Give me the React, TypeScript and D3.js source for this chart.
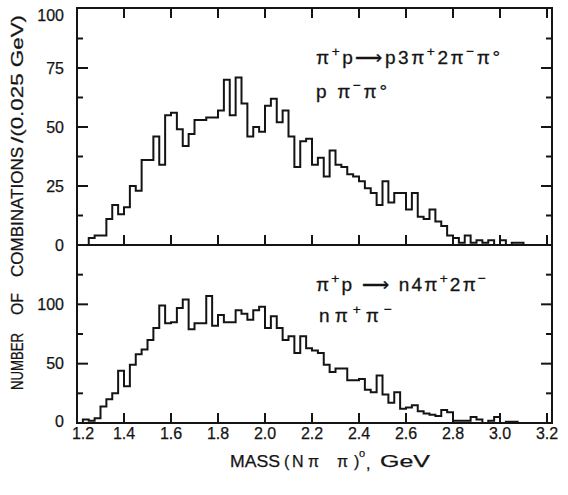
import React from "react";
import * as d3 from "d3";

// Histogram binning: 0.025 GeV bins starting at 1.2 GeV
const binStart = 1.2;
const binWidth = 0.025;

// pi+ p -> p 3pi+ 2pi- pi0, p pi- pi0 combinations
const upperCounts = [
  0, 0, 3, 4, 4, 11, 17, 13, 16, 25,
  23, 36, 36, 46, 34, 55, 56, 49, 42, 47,
  53, 53, 54, 54, 57, 70, 55, 71, 60, 46,
  50, 48, 59, 62, 52, 57, 46, 33, 44, 45,
  34, 37, 29, 40, 34, 33, 30, 29, 27, 24,
  22, 17, 27, 18, 22, 22, 15, 22, 12, 11,
  15, 10, 8, 4, 3, 1, 4, 1, 2, 1,
  2, 0, 2, 0, 1, 1, 0, 0, 0, 0,
];

// pi+ p -> n 4pi+ 2pi-, n pi+ pi- combinations
const lowerCounts = [
  0, 3, 2, 4, 14, 20, 25, 44, 31, 49,
  58, 62, 70, 80, 99, 84, 85, 97, 104, 79,
  84, 84, 107, 82, 91, 85, 85, 95, 92, 87,
  95, 98, 80, 90, 80, 70, 73, 59, 73, 63,
  61, 59, 49, 43, 46, 46, 36, 36, 37, 28,
  26, 40, 24, 17, 26, 12, 13, 15, 10, 8,
  7, 6, 11, 9, 2, 2, 2, 5, 3, 0,
  2, 5, 0, 1, 1, 0, 0, 0, 0, 0,
];

const massTicks = [1.2, 1.4, 1.6, 1.8, 2.0, 2.2, 2.4, 2.6, 2.8, 3.0, 3.2];
const upperCountLabels = [0, 25, 50, 75, 100];
const lowerCountLabels = [0, 50, 100];
const upperMinorStep = 12.5;
const lowerMinorStep = 25;

type Seg = { t: string; sup?: boolean };
const upperReaction: Seg[] = [
  { t: "π" }, { t: "+", sup: true }, { t: "p⟶p3π" }, { t: "+", sup: true },
  { t: "2π" }, { t: "−", sup: true }, { t: "π°" },
];
const upperCombination: Seg[] = [
  { t: "p π" }, { t: "−", sup: true }, { t: "π°" },
];
const lowerReaction: Seg[] = [
  { t: "π" }, { t: "+", sup: true }, { t: "p ⟶ n4π" }, { t: "+", sup: true },
  { t: "2π" }, { t: "−", sup: true },
];
const lowerCombination: Seg[] = [
  { t: "nπ" }, { t: "+", sup: true }, { t: "π" }, { t: "−", sup: true },
];

const W = 568;
const H = 495;
const left = 77;
const right = 552;
const top = 8;
const mid = 245;
const bottom = 423;
const ink = "#141414";
const font = "'Liberation Sans', Arial, sans-serif";

const x = d3.scaleLinear().domain([1.2, 3.2]).range([left, 547]);
const yUpper = d3.scaleLinear().domain([0, 100]).range([mid, 9]);
const yLower = d3.scaleLinear().domain([0, 150]).range([bottom, mid]);

function stepPath(counts: number[], y: d3.ScaleLinear<number, number>) {
  const pts: [number, number][] = [[binStart, 0]];
  counts.forEach((c, i) => {
    const m0 = binStart + i * binWidth;
    pts.push([m0, c], [m0 + binWidth, c]);
  });
  pts.push([binStart + counts.length * binWidth, 0]);
  return d3
    .line<[number, number]>()
    .x((d) => x(Math.min(d[0], 3.2)))
    .y((d) => y(d[1]))(pts) as string;
}

function Formula({ px, py, segs, size, width }: { px: number; py: number; segs: Seg[]; size: number; width: number }) {
  let raised = false;
  const shift = size * 0.42;
  return (
    <text
      x={px}
      y={py}
      fontSize={size}
      fill={ink}
      fontFamily={font}
      textLength={width}
      lengthAdjust="spacing"
      stroke={ink}
      strokeWidth={0.3}
    >
      {segs.map((s, i) => {
        let dy = 0;
        if (s.sup && !raised) dy = -shift;
        if (!s.sup && raised) dy = shift;
        raised = !!s.sup;
        return (
          <tspan key={i} dy={dy} fontSize={s.sup ? size * 0.72 : size}>
            {s.t}
          </tspan>
        );
      })}
    </text>
  );
}

function countTicks(max: number, step: number, majorEvery: number, y: d3.ScaleLinear<number, number>) {
  const out: JSX.Element[] = [];
  for (let v = step; v < max - 1e-6; v += step) {
    const len = Math.abs(v % majorEvery) < 1e-6 ? 11 : 6;
    const yy = y(v);
    out.push(<line key={`l${v}`} x1={left} x2={left + len} y1={yy} y2={yy} />);
    out.push(<line key={`r${v}`} x1={right} x2={right - len} y1={yy} y2={yy} />);
  }
  return out;
}

export default function App() {
  const xt = massTicks.filter((m) => m > 1.2);
  return (
    <svg
      width={W}
      height={H}
      style={{ position: "absolute", left: 0, top: 0, background: "#fff" }}
      fontFamily={font}
    >
      <rect x={0} y={0} width={W} height={H} fill="#fff" />

      {/* histograms */}
      <path d={stepPath(upperCounts, yUpper)} fill="none" stroke={ink} strokeWidth={2} strokeLinejoin="miter" />
      <path d={stepPath(lowerCounts, yLower)} fill="none" stroke={ink} strokeWidth={2} strokeLinejoin="miter" />

      {/* frame */}
      <g stroke={ink} strokeWidth={2} fill="none">
        <rect x={left} y={top} width={right - left} height={bottom - top} />
        <line x1={left} x2={right} y1={mid} y2={mid} />
        {xt.map((m) => (
          <g key={m}>
            <line x1={x(m)} x2={x(m)} y1={top} y2={top + 10} />
            <line x1={x(m)} x2={x(m)} y1={mid} y2={mid - 10} />
            <line x1={x(m)} x2={x(m)} y1={bottom} y2={bottom - 10} />
          </g>
        ))}
        {countTicks(100, upperMinorStep, 25, yUpper)}
        {countTicks(150, lowerMinorStep, 50, yLower)}
      </g>

      {/* count labels */}
      <g fontSize={16} fill={ink} textAnchor="end" stroke={ink} strokeWidth={0.25}>
        {upperCountLabels.map((v) => (
          <text key={`u${v}`} x={64} y={Math.max(yUpper(v), 15) + 5.5}>
            {v}
          </text>
        ))}
        {lowerCountLabels.map((v) => (
          <text key={`d${v}`} x={64} y={yLower(v) + 5.5 - (v === 0 ? 2 : 0)}>
            {v}
          </text>
        ))}
      </g>

      {/* mass labels */}
      <g fontSize={16} fill={ink} textAnchor="middle" stroke={ink} strokeWidth={0.25}>
        {massTicks.map((m) => (
          <text key={m} x={x(m) + (m === 1.2 ? 6 : 0)} y={439}>
            {m.toFixed(1)}
          </text>
        ))}
      </g>

      {/* axis titles */}
      <g fontSize={16} fill={ink} stroke={ink} strokeWidth={0.25}>
        <text transform="translate(23,390) rotate(-90)" textLength={57} lengthAdjust="spacingAndGlyphs">NUMBER</text>
        <text transform="translate(23,315) rotate(-90)" textLength={22} lengthAdjust="spacingAndGlyphs">OF</text>
        <text transform="translate(23,277) rotate(-90)" textLength={130} lengthAdjust="spacingAndGlyphs">COMBINATIONS</text>
        <text transform="translate(23,143) rotate(-90)" textLength={128} lengthAdjust="spacingAndGlyphs">/(0.025 GeV)</text>

        <text x={230} y={467} textLength={50} lengthAdjust="spacingAndGlyphs">MASS</text>
        <text x={284} y={467}>(</text>
        <text x={292} y={467}>N</text>
        <text x={308} y={467}>π</text>
        <text x={337} y={467}>π</text>
        <text x={354} y={467}>)</text>
        <text x={359} y={457} fontSize={11}>o</text>
        <text x={366} y={469}>,</text>
        <text x={380} y={467} textLength={50} lengthAdjust="spacingAndGlyphs">GeV</text>
      </g>

      {/* reaction labels */}
      <Formula px={316} py={64} segs={upperReaction} size={19} width={184} />
      <Formula px={316} py={98} segs={upperCombination} size={19} width={71} />
      <Formula px={316} py={291} segs={lowerReaction} size={19} width={170} />
      <Formula px={319} py={322} segs={lowerCombination} size={19} width={73} />
    </svg>
  );
}
